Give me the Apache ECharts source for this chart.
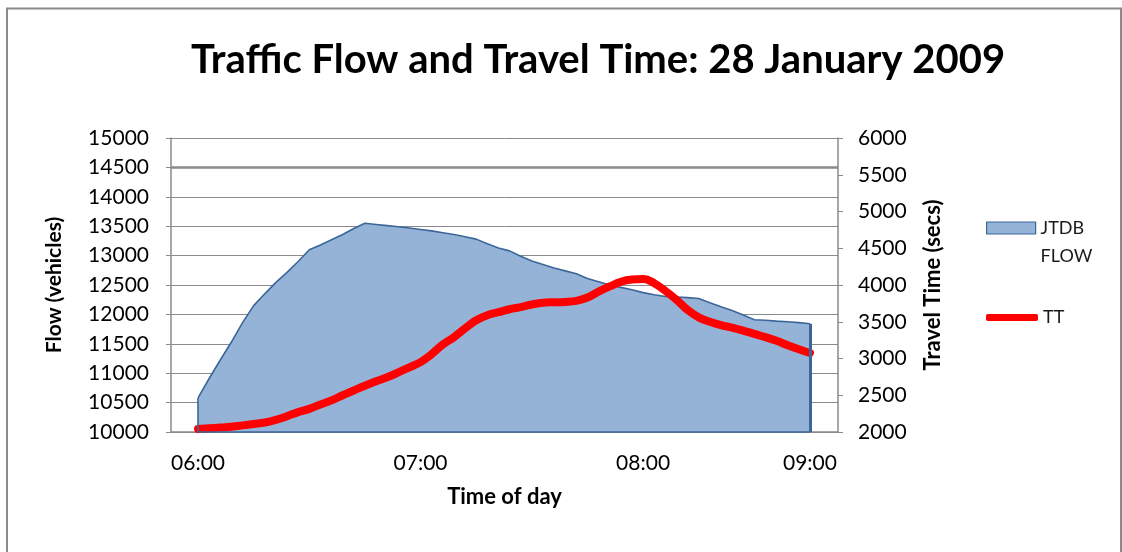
<!DOCTYPE html>
<html>
<head>
<meta charset="utf-8">
<script src="https://cdn.jsdelivr.net/npm/echarts@6/dist/echarts.min.js"></script>
<style>
  html, body { margin: 0; padding: 0; background: #fff; }
  #chart { width: 1122px; height: 552px; }
</style>
</head>
<body>
<div id="chart"></div>
<script>
// Sample times (3-minute steps to 08:00, then 4-minute steps to 09:00)
const times = [
  '06:00','06:03','06:06','06:09','06:12','06:15','06:18','06:21','06:24','06:27',
  '06:30','06:33','06:36','06:39','06:42','06:45','06:48','06:51','06:54','06:57',
  '07:00','07:03','07:06','07:09','07:12','07:15','07:18','07:21','07:24','07:27',
  '07:30','07:33','07:36','07:39','07:42','07:45','07:48','07:51','07:54','07:57',
  '08:00','08:04','08:08','08:12','08:16','08:20','08:24','08:28','08:32','08:36',
  '08:40','08:44','08:48','08:52','08:56','09:00'
];

// JTDB flow (vehicles)
const flow = [
  10580, 10910, 11225, 11530, 11860, 12150, 12350, 12545, 12715, 12900,
  13100, 13180, 13270, 13360, 13460, 13550, 13530, 13510, 13490, 13470,
  13445, 13420, 13390, 13360, 13320, 13280, 13200, 13130, 13080, 12990,
  12910, 12850, 12790, 12740, 12690, 12610, 12555, 12500, 12460, 12420,
  12370, 12335, 12305, 12295, 12285, 12270, 12200, 12130, 12065, 11990,
  11910, 11900, 11885, 11875, 11860, 11840
];

// Travel time (secs)
const travelTime = [
  2040, 2050, 2060, 2072, 2090, 2110, 2130, 2165, 2215, 2270,
  2315, 2375, 2430, 2500, 2565, 2630, 2690, 2745, 2810, 2880,
  2950, 3060, 3190, 3290, 3410, 3520, 3590, 3630, 3670, 3700,
  3735, 3760, 3765, 3770, 3785, 3830, 3910, 3980, 4045, 4075,
  4080, 4025, 3920, 3800, 3660, 3560, 3500, 3455, 3420, 3380,
  3335, 3290, 3240, 3180, 3125, 3075
];

// Hourly labels along the time axis
const hourLabels = ['06:00', '07:00', '08:00', '09:00'];

const FONT = 'Lato';
const GRID_GRAY = '#8a8a8a';
const FLOW_FILL = '#95B3D7';
const FLOW_EDGE = '#3C6699';
const TT_RED = '#FF0000';

const hourIdx = hourLabels.map(h => times.indexOf(h));
const last = times.length - 1;
const plain = v => String(v);

const chart = echarts.init(document.getElementById('chart'), null, { renderer: 'canvas' });

chart.setOption({
  animation: false,
  backgroundColor: '#ffffff',
  textStyle: { fontFamily: FONT },
  title: {
    text: 'Traffic Flow and Travel Time: 28 January 2009',
    left: 593,
    textAlign: 'center',
    top: 35,
    textStyle: { fontFamily: FONT, fontSize: 40, fontWeight: 'bold', color: '#000' }
  },
  graphic: [{
    type: 'rect',
    shape: { x: 7, y: 8.5, width: 1114, height: 560 },
    style: { fill: 'none', stroke: GRID_GRAY, lineWidth: 2 },
    silent: true
  }],
  legend: [{
    data: [{
      name: 'JTDB FLOW',
      icon: 'rect',
      itemStyle: { color: FLOW_FILL, borderColor: FLOW_EDGE, borderWidth: 1.2 }
    }],
    orient: 'vertical',
    left: 986,
    top: 186,
    padding: 0,
    itemWidth: 49,
    itemHeight: 12,
    selectedMode: false,
    // blank first line keeps "JTDB" level with the swatch, "FLOW" wraps below
    formatter: () => ' \nJTDB\nFLOW',
    textStyle: { fontFamily: FONT, fontSize: 18, color: '#1a1a1a', lineHeight: 28 }
  }, {
    data: [{ name: 'TT', icon: 'roundRect', itemStyle: { color: TT_RED } }],
    orient: 'vertical',
    left: 986,
    top: 304,
    padding: 0,
    itemWidth: 52,
    itemHeight: 7,
    selectedMode: false,
    textStyle: { fontFamily: FONT, fontSize: 18, color: '#1a1a1a', lineHeight: 27 }
  }],
  grid: { left: 171, right: 284, top: 138, bottom: 120, containLabel: false },
  xAxis: {
    type: 'value',
    min: -2.43,
    max: last + 2.52,
    name: 'Time of day',
    nameLocation: 'middle',
    nameGap: 54,
    nameTextStyle: { fontFamily: FONT, fontSize: 22, fontWeight: 'bold', color: '#000' },
    axisLine: { show: true, onZero: false, lineStyle: { color: GRID_GRAY, width: 1.5 } },
    axisTick: { show: false },
    splitLine: { show: false },
    axisLabel: {
      customValues: hourIdx,
      formatter: v => times[Math.round(v)],
      margin: 21,
      fontFamily: FONT, fontSize: 21, color: '#000'
    }
  },
  yAxis: [{
    type: 'value',
    min: 10000, max: 15000, interval: 500,
    name: 'Flow (vehicles)',
    nameLocation: 'middle',
    nameRotate: 90,
    nameGap: 106,
    nameTextStyle: { fontFamily: FONT, fontSize: 21, fontWeight: 'bold', color: '#000' },
    axisLine: { show: true, onZero: false, lineStyle: { color: GRID_GRAY, width: 1.5 } },
    axisTick: { show: true, length: 5, lineStyle: { color: GRID_GRAY } },
    splitLine: { show: true, lineStyle: { color: GRID_GRAY, width: 1 } },
    axisLabel: { margin: 22, formatter: plain, fontFamily: FONT, fontSize: 21, color: '#000' }
  }, {
    type: 'value',
    min: 2000, max: 6000, interval: 500,
    position: 'right',
    name: 'Travel Time (secs)',
    nameLocation: 'middle',
    nameRotate: 90,
    nameGap: 84,
    nameTextStyle: { fontFamily: FONT, fontSize: 22, fontWeight: 'bold', color: '#000' },
    axisLine: { show: true, onZero: false, lineStyle: { color: GRID_GRAY, width: 1.5 } },
    axisTick: { show: true, length: 5, lineStyle: { color: GRID_GRAY } },
    splitLine: { show: false },
    axisLabel: { margin: 20, formatter: plain, fontFamily: FONT, fontSize: 21, color: '#000' }
  }],
  series: [{
    name: 'JTDB FLOW',
    type: 'line',
    yAxisIndex: 0,
    data: flow.map((v, i) => [i, v]),
    showSymbol: false,
    symbol: 'none',
    smooth: false,
    lineStyle: { color: FLOW_EDGE, width: 1.6 },
    itemStyle: { color: FLOW_FILL },
    areaStyle: { color: FLOW_FILL, opacity: 1, origin: 'start' },
    z: 2,
    markLine: {
      silent: true,
      symbol: 'none',
      label: { show: false },
      animation: false,
      data: [
        { yAxis: 14500, lineStyle: { color: GRID_GRAY, width: 2.5, type: 'solid' } },
        [{ coord: [0, 10000], lineStyle: { color: FLOW_EDGE, width: 1.6, type: 'solid' } }, { coord: [0, flow[0]] }],
        [{ coord: [last, 10000], lineStyle: { color: FLOW_EDGE, width: 3, type: 'solid' } }, { coord: [last, flow[last]] }],
        [{ coord: [0, 10000], lineStyle: { color: FLOW_EDGE, width: 1.6, type: 'solid' } }, { coord: [last, 10000] }]
      ]
    }
  }, {
    name: 'TT',
    type: 'line',
    yAxisIndex: 1,
    data: travelTime.map((v, i) => [i, v]),
    showSymbol: false,
    symbol: 'none',
    smooth: 0.4,
    lineStyle: { color: TT_RED, width: 8, cap: 'round', join: 'round' },
    itemStyle: { color: TT_RED },
    z: 3
  }]
});
</script>
</body>
</html>
